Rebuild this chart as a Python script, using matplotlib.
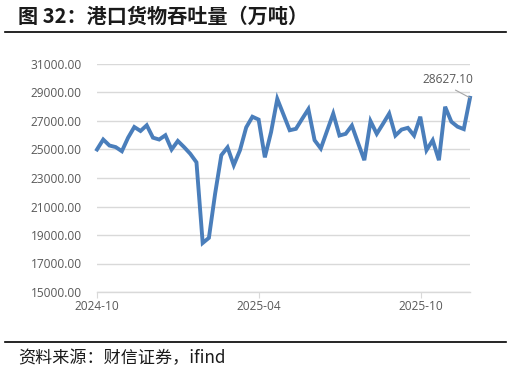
import matplotlib
matplotlib.use("Agg")
import matplotlib.pyplot as plt
import numpy as np
import pandas as pd

plt.rcParams['font.family'] = ['Noto Sans CJK SC', 'DejaVu Sans']

# weekly port cargo throughput (10k tons)
start_date = "2024-10-01"
throughput = [
    25000, 25700, 25280, 25170, 24880, 25830, 26580, 26300, 26700, 25830,
    25700, 26000, 25000, 25600, 25170, 24700, 24100, 18440, 18800, 21900,
    24600, 25150, 23900, 24950, 26550, 27300, 27100, 24450, 26220, 28550,
    27450, 26350, 26450, 27150, 27830, 25650, 25070, 26300, 27520, 25980,
    26100, 26680, 25450, 24250, 26990, 26100, 26800, 27520, 25980, 26400,
    26520, 25980, 27300, 24950, 25650, 24250, 28000, 26950, 26600, 26430,
    28627.10,
]
dates = pd.date_range(start_date, periods=len(throughput), freq="7D")
tick_dates = pd.to_datetime(["2024-10-01", "2025-04-01", "2025-10-01"])
tick_labels = ["2024-10", "2025-04", "2025-10"]
y_ticks = np.arange(15000, 31001, 2000)

fig = plt.figure(figsize=(5.11, 3.76), dpi=100)
ax = fig.add_axes([97 / 511, 1 - 292 / 376, (470 - 97) / 511, (292 - 64) / 376])

ax.plot(dates, throughput, color='#4a7ebb', linewidth=2.8, solid_joinstyle='miter',
        clip_on=False, zorder=3)

ax.set_ylim(15000, 31000)
ax.set_xlim(dates[0], dates[-1])
ax.set_yticks(y_ticks)
ax.set_yticklabels([f"{v:.2f}" for v in y_ticks], fontsize=8.6, color='#595959',
                   family='Open Sans')
ax.set_xticks(tick_dates)
ax.set_xticklabels(tick_labels, fontsize=8.6, color='#595959', family='Open Sans')
ax.tick_params(axis='y', length=0, pad=11)
ax.tick_params(axis='x', length=4, color='#d9d9d9', direction='out', pad=2)
ax.grid(axis='y', color='#d9d9d9', linewidth=1)
ax.set_axisbelow(True)
for s in ['top', 'right', 'left']:
    ax.spines[s].set_visible(False)
ax.spines['bottom'].set_color('#d9d9d9')
ax.spines['bottom'].set_linewidth(1)

# last value label
ax.annotate(f"{throughput[-1]:.2f}", xy=(dates[-1], throughput[-1]),
            xytext=(-16, 8.5), textcoords='offset points', ha='center', va='bottom',
            fontsize=8.6, color='#595959', family='Open Sans',
            arrowprops=dict(arrowstyle='-', color='#a6a6a6', lw=0.8,
                            shrinkA=2, shrinkB=0,
                            relpos=(0.5, 0.0)))

# title and source with rules
fig.text(18 / 511, 1 - 16 / 376, "图 32：港口货物吞吐量（万吨）", fontsize=14.5,
         fontweight='bold', va='center', ha='left', color='#1a1a1a')
fig.add_artist(plt.Line2D([5 / 511, 506 / 511], [1 - 32 / 376, 1 - 32 / 376],
                          color='black', linewidth=1.2))
fig.add_artist(plt.Line2D([5 / 511, 506 / 511], [1 - 342 / 376, 1 - 342 / 376],
                          color='black', linewidth=1.2))
fig.text(18 / 511, 1 - 358 / 376, "资料来源：财信证券，ifind", fontsize=12.3,
         style='italic', fontweight='light', va='center', ha='left', color='#1a1a1a')

fig.savefig("out.png", dpi=100)
